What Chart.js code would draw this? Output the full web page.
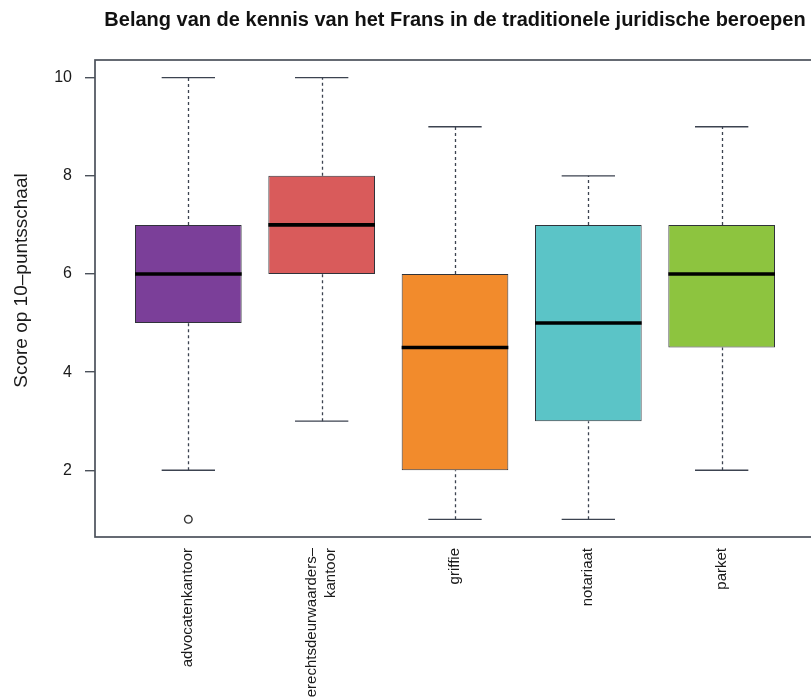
<!DOCTYPE html>
<html><head><meta charset="utf-8">
<script src="https://cdn.jsdelivr.net/npm/chart.js@4.4.1/dist/chart.umd.min.js"></script>
<style>
html,body{margin:0;padding:0;background:#fff;overflow:hidden;}
#wrap{width:840px;height:698px;position:relative;}
</style></head><body>
<div id="wrap"><canvas id="c" width="840" height="698"></canvas></div>
<script>
// ---- data ----
const categories = ['advocatenkantoor', ['gerechtsdeurwaarders–', 'kantoor'], 'griffie', 'notariaat', 'parket'];
const whiskerLow  = [2, 3, 1, 1, 2];
const q1          = [5, 6, 2, 3, 4.5];
const medians     = [6, 7, 4.5, 5, 6];
const q3          = [7, 8, 6, 7, 7];
const whiskerHigh = [10, 10, 9, 8, 9];
const outlierCategory = [1];
const outlierValues   = [1];
const yTicks = [2, 4, 6, 8, 10];
const titleText = 'Belang van de kennis van het Frans in de traditionele juridische beroepen';
const yTitleText = 'Score op 10–puntsschaal';

const FONT = 'Liberation Sans, Arial, Helvetica, sans-serif';
const frameColor = '#4b515b';
const textColor = '#1a1a1a';

const boxParts = {
  id: 'boxParts',
  beforeDatasetsDraw(chart) {
    const {ctx, scales: {x, y}} = chart;
    ctx.save();
    ctx.strokeStyle = '#3c4350';
    ctx.lineWidth = 1.3;
    categories.forEach((_, i) => {
      const cx = Math.round(x.getPixelForValue(i + 1)) + 0.5;
      const capL = x.getPixelForValue(i + 1 - 0.2);
      const capR = x.getPixelForValue(i + 1 + 0.2);
      ctx.setLineDash([3, 3]);
      ctx.beginPath();
      ctx.moveTo(cx, y.getPixelForValue(whiskerLow[i]));
      ctx.lineTo(cx, y.getPixelForValue(q1[i]));
      ctx.moveTo(cx, y.getPixelForValue(q3[i]));
      ctx.lineTo(cx, y.getPixelForValue(whiskerHigh[i]));
      ctx.stroke();
      ctx.setLineDash([]);
      ctx.beginPath();
      const yl = y.getPixelForValue(whiskerLow[i]);
      const yh = y.getPixelForValue(whiskerHigh[i]);
      ctx.moveTo(capL, yl); ctx.lineTo(capR, yl);
      ctx.moveTo(capL, yh); ctx.lineTo(capR, yh);
      ctx.stroke();
    });
    ctx.restore();
  },
  afterDatasetsDraw(chart) {
    const {ctx, scales: {x, y}, chartArea: a} = chart;
    ctx.save();
    ctx.strokeStyle = '#000';
    ctx.lineWidth = 3.6;
    categories.forEach((_, i) => {
      const ym = y.getPixelForValue(medians[i]);
      ctx.beginPath();
      ctx.moveTo(x.getPixelForValue(i + 1 - 0.4), ym);
      ctx.lineTo(x.getPixelForValue(i + 1 + 0.4), ym);
      ctx.stroke();
    });
    ctx.strokeStyle = frameColor;
    ctx.lineWidth = 1.7;
    ctx.strokeRect(a.left, a.top, a.right - a.left, a.bottom - a.top);
    ctx.restore();
  },
  afterDraw(chart) {
    const {ctx, scales: {x}, chartArea: a} = chart;
    ctx.save();
    ctx.fillStyle = textColor;
    // category labels, rotated, end of text near the axis
    ctx.font = '15px ' + FONT;
    ctx.textAlign = 'right';
    ctx.textBaseline = 'middle';
    const lh = 19;
    categories.forEach((c, i) => {
      const lines = Array.isArray(c) ? c : [c];
      const cx = x.getPixelForValue(i + 1);
      lines.forEach((ln, k) => {
        const px = cx + (k - (lines.length - 1) / 2) * lh;
        ctx.save();
        ctx.translate(px, a.bottom + 11);
        ctx.rotate(-Math.PI / 2);
        ctx.fillText(ln, 0, 0);
        ctx.restore();
      });
    });
    // y axis title
    ctx.font = '19px ' + FONT;
    ctx.textAlign = 'center';
    ctx.textBaseline = 'middle';
    ctx.translate(22, (a.top + a.bottom) / 2 - 18);
    ctx.rotate(-Math.PI / 2);
    ctx.fillText(yTitleText, 0, 0);
    ctx.restore();
  }
};

new Chart(document.getElementById('c'), {
  type: 'bar',
  data: {
    datasets: [
      {
        type: 'bar',
        data: categories.map((c, i) => ({x: i + 1, y: [q1[i], q3[i]]})),
        backgroundColor: ['#7B3F99', '#D95B5B', '#F28B2C', '#5BC4C7', '#8DC43F'],
        borderColor: '#30333a',
        borderWidth: 1,
        borderSkipped: false,
        barPercentage: 0.8,
        categoryPercentage: 1.0,
        order: 2
      },
      {
        type: 'scatter',
        data: outlierValues.map((v, i) => ({x: outlierCategory[i], y: v})),
        pointRadius: 3.8,
        pointBackgroundColor: '#fff',
        pointBorderColor: '#333',
        pointBorderWidth: 1.4,
        order: 1
      }
    ]
  },
  options: {
    responsive: false,
    animation: false,
    layout: {padding: {top: 0, right: 25, bottom: 0, left: 0}},
    plugins: {
      legend: {display: false},
      tooltip: {enabled: false},
      title: {
        display: true, text: titleText, fullSize: false,
        font: {family: FONT, size: 20, weight: 'bold', lineHeight: 1.2},
        color: '#111', padding: {top: 8, bottom: 28}
      }
    },
    scales: {
      x: {
        type: 'linear', min: 0.3, max: 5.7, offset: false,
        afterBuildTicks: s => { s.ticks = categories.map((_, i) => ({value: i + 1})); },
        afterFit: s => { s.height = 161; },
        grid: {display: false, drawTicks: false},
        border: {display: false},
        ticks: {display: false}
      },
      y: {
        min: 0.64, max: 10.36,
        afterBuildTicks: s => { s.ticks = yTicks.map(v => ({value: v})); },
        afterFit: s => { s.width = 95; },
        grid: {drawOnChartArea: false, drawTicks: true, tickLength: 10, color: frameColor, lineWidth: 1.4},
        border: {display: false},
        ticks: {font: {family: FONT, size: 16}, color: textColor, padding: 13, callback: v => String(v)}
      }
    }
  },
  plugins: [boxParts]
});
</script>
</body></html>
